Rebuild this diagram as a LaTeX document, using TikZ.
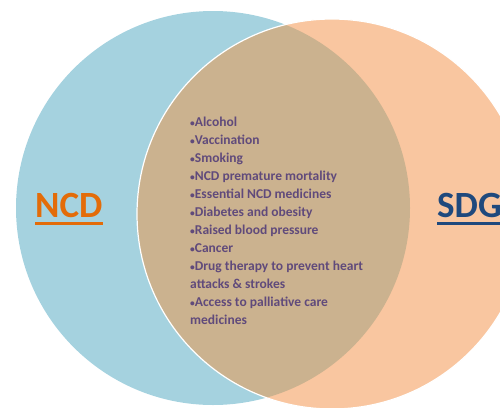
\documentclass[tikz,border=0pt]{standalone}
\usepackage{fontspec}
\setmainfont{Carlito}
\usetikzlibrary{positioning}
\definecolor{ncdblue}{RGB}{165,210,223}
\definecolor{sdgpeach}{RGB}{249,198,160}
\definecolor{overlap}{RGB}{203,178,143}
\definecolor{listtext}{RGB}{96,74,123}
\definecolor{ncdorange}{RGB}{227,108,9}
\definecolor{sdgnavy}{RGB}{31,73,125}
\newcommand{\itembullet}{\raisebox{0.6pt}{\scalebox{0.7}{•}}}
\tikzset{
  title/.style={font=\bfseries\fontsize{37}{40}\selectfont,inner sep=0pt},
  items/.style={font=\bfseries\fontsize{13.5}{18}\selectfont,text=listtext,align=left,inner sep=0pt},
  uline/.style={line width=3pt}
}

\begin{document}
\begin{tikzpicture}[x=1pt,y=-1pt]
  \useasboundingbox (0,0) rectangle (500,407);
  % the two sets and their overlap
  \fill[ncdblue] (213,208) circle (197pt);
  \fill[sdgpeach] (332,214) circle (195pt);
  \begin{scope}
    \clip (213,208) circle (197pt);
    \fill[overlap] (332,214) circle (195pt);
  \end{scope}
  \draw[white,line width=1.2pt] (332,214) circle (195pt);

  \node[title,text=ncdorange,anchor=base west] (ncd) at (35,217) {NCD};
  \draw[uline,ncdorange] ([yshift=-6pt]ncd.base west) -- ([yshift=-6pt]ncd.base east);
  \node[title,text=sdgnavy,anchor=base west] (sdg) at (437,217) {SDG};
  \draw[uline,sdgnavy] ([yshift=-6pt]sdg.base west) -- ([yshift=-6pt]sdg.base east);

  \node[items,anchor=north west] (shared) at (190,117) {\itembullet Alcohol\\
    \itembullet Vaccination\\
    \itembullet Smoking\\
    \itembullet NCD premature mortality\\
    \itembullet Essential NCD medicines\\
    \itembullet Diabetes and obesity\\
    \itembullet Raised blood pressure\\
    \itembullet Cancer\\
    \itembullet Drug therapy to prevent heart\\
    attacks \& strokes\\
    \itembullet Access to palliative care\\
    medicines};
\end{tikzpicture}
\end{document}
